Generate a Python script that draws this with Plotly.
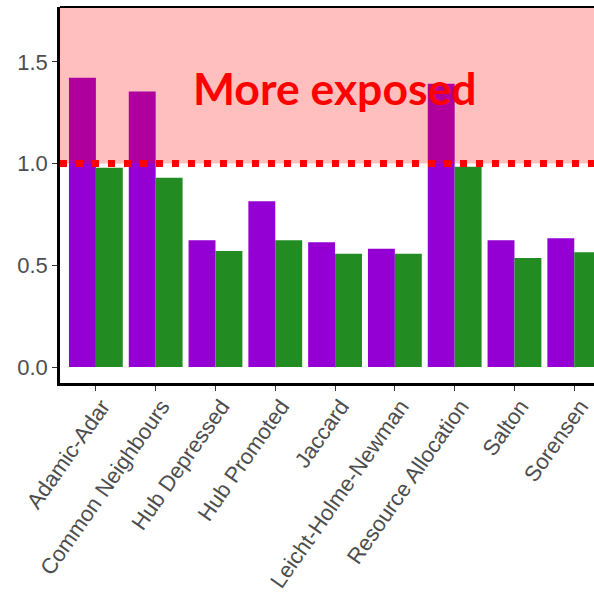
import plotly.graph_objects as go

# Link prediction methods on the x axis
methods = ["Adamic-Adar", "Common Neighbours", "Hub Depressed", "Hub Promoted",
           "Jaccard", "Leicht-Holme-Newman", "Resource Allocation", "Salton", "Sorensen"]

# Two series of exposure ratios per method
series_a = [1.422, 1.355, 0.623, 0.815, 0.613, 0.582, 1.393, 0.623, 0.633]
series_b = [0.980, 0.930, 0.570, 0.623, 0.557, 0.557, 0.985, 0.536, 0.564]

y_ticks = [0.0, 0.5, 1.0, 1.5]
threshold = 1.0
label_text = "More exposed"

fig = go.Figure()
fig.add_trace(go.Bar(x=methods, y=series_a, marker=dict(color="#9400D3", line=dict(width=0))))
fig.add_trace(go.Bar(x=methods, y=series_b, marker=dict(color="#228B22", line=dict(width=0))))

# Shaded region above the threshold, drawn over the bars
fig.add_shape(type="rect", xref="paper", yref="y", x0=0, x1=1, y0=threshold, y1=1.8,
              fillcolor="rgba(255,0,0,0.25)", line=dict(width=0), layer="above")
# Dotted threshold line
fig.add_shape(type="line", xref="paper", yref="y", x0=0, x1=1, y0=threshold, y1=threshold,
              line=dict(color="#FF0000", width=7, dash="7px,9px"), layer="above")
# Top border of the panel
fig.add_shape(type="line", xref="paper", yref="paper", x0=0, x1=1, y0=1, y1=1,
              line=dict(color="#000000", width=2), layer="above")

fig.add_annotation(x=4, y=1.375, text="<b>" + label_text + "</b>", showarrow=False,
                   font=dict(family="Lato", size=44.5, color="#FF0000"),
                   xanchor="center", yanchor="middle")

fig.update_layout(
    width=594, height=597,
    margin=dict(l=60, r=0, t=7, b=214),
    paper_bgcolor="white", plot_bgcolor="white",
    barmode="group", bargap=0.1, bargroupgap=0,
    showlegend=False,
    font=dict(family="Liberation Sans, Arial", color="#4D4D4D"),
)
fig.update_xaxes(
    range=[-0.6, 8.33], showgrid=False, zeroline=False,
    showline=True, linecolor="black", linewidth=2.5,
    ticks="outside", ticklen=5, tickwidth=1, tickcolor="#333333",
    tickangle=-55, tickfont=dict(size=22, color="#4D4D4D"),
    ticklabelshift=6, ticklabelstandoff=-6,
)
fig.update_yaxes(
    range=[-0.0786, 1.770], showgrid=False, zeroline=False,
    showline=True, linecolor="black", linewidth=2.5,
    tickvals=y_ticks, tickformat=".1f",
    ticks="outside", ticklen=5, tickwidth=1, tickcolor="#333333",
    tickfont=dict(size=22, color="#4D4D4D"),
)

fig.write_html("out.html")
